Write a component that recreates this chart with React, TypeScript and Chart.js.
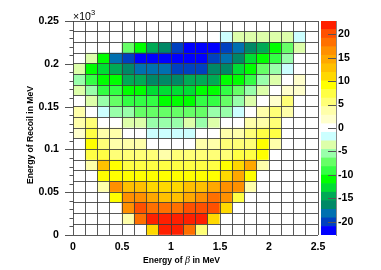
import React, { useEffect, useRef } from "react";
import { Chart, registerables } from "chart.js";

Chart.register(...registerables);

const FONT = '"Liberation Sans", Arial, sans-serif';

const COL_COUNT = 20;
const X_STEP = 0.125;
const Y_STEP = 0.0125;
const Z_MAX = 22.8;
const Z_TICKS = [-20, -15, -10, -5, 0, 5, 10, 15, 20];

// listed from the top row of the picture down to the bottom row
const zRows: number[][] = [
  [0,0,0,0,0,0,0,0,0,0,0,0,0,0,0,0,0,0,0,0],
  [0,0,0,0,0,0,0,0,0,0,0,0,-1.8,-3.6,-3.6,-3.6,-3.6,-3.6,-1.8,0],
  [0,0,0,0,-7.3,-11,-14.6,-16.4,-20,-21.9,-21.9,-21.9,-20,-18.2,-16.4,-14.6,-11,-7.3,-3.6,0],
  [0,-3.6,-11,-18.2,-20,-21.9,-21.9,-21.9,-21.9,-21.9,-21.9,-20,-18.2,-16.4,-12.8,-11,-9.1,-5.5,0,0],
  [-3.6,-11,-12.8,-14.6,-16.4,-18.2,-18.2,-18.2,-20,-20,-20,-16.4,-16.4,-12.8,-11,-7.3,-5.5,-1.8,0,0],
  [-5.5,-9.1,-11,-11,-14.6,-14.6,-16.4,-16.4,-16.4,-14.6,-14.6,-14.6,-11,-11,-9.1,-5.5,-3.6,0,1.8,0],
  [-3.6,-5.5,-9.1,-9.1,-11,-11,-12.8,-12.8,-12.8,-12.8,-11,-11,-9.1,-7.3,-5.5,-3.6,0,1.8,1.8,0],
  [0,-3.6,-5.5,-7.3,-9.1,-9.1,-9.1,-11,-11,-11,-9.1,-9.1,-7.3,-5.5,-3.6,0,1.8,5.5,0,0],
  [3.6,0,-1.8,-5.5,-5.5,-7.3,-7.3,-7.3,-7.3,-7.3,-7.3,-5.5,-5.5,-1.8,0,3.6,5.5,3.6,0,0],
  [3.6,5.5,0,0,-3.6,-3.6,-5.5,-5.5,-5.5,-3.6,-5.5,-3.6,0,0,3.6,3.6,5.5,0,0,0],
  [1.8,7.3,3.6,3.6,0,0,-1.8,-1.8,-1.8,-1.8,0,0,3.6,3.6,5.5,7.3,7.3,0,0,0],
  [0,9.1,5.5,3.6,3.6,3.6,0,0,0,0,3.6,3.6,5.5,5.5,5.5,9.1,3.6,0,0,0],
  [0,7.3,7.3,5.5,5.5,5.5,5.5,3.6,5.5,5.5,5.5,5.5,5.5,7.3,7.3,9.1,0,0,0,0],
  [0,3.6,12.8,9.1,7.3,7.3,7.3,7.3,7.3,7.3,7.3,7.3,9.1,11,14.6,3.6,0,0,0,0],
  [0,0,9.1,9.1,9.1,9.1,9.1,9.1,9.1,9.1,9.1,9.1,11,14.6,9.1,0,0,0,0,0],
  [0,0,3.6,16.4,12.8,12.8,11,11,11,12.8,12.8,14.6,16.4,16.4,3.6,0,0,0,0,0],
  [0,0,0,9.1,16.4,16.4,14.6,12.8,12.8,14.6,16.4,18.2,16.4,7.3,0,0,0,0,0,0],
  [0,0,0,0,16.4,20,18.2,18.2,18.2,20,20,20,11,0,0,0,0,0,0,0],
  [0,0,0,0,3.6,18.2,21.9,21.9,21.9,21.9,21.9,11,0,0,0,0,0,0,0,0],
  [0,0,0,0,0,0,11,21.9,21.9,18.2,5.5,0,0,0,0,0,0,0,0,0],
];

const bandColors = [
  "#0000ff","#0040c0","#0070b0","#008866","#00aa55","#00dd33","#00ff00","#33ff44","#66ff66",
  "#99ffaa","#ddffaa","#ccffff","#ffffff","#ffffcc","#ffffaa","#ffff77","#ffff44","#ffff00",
  "#ffd800","#ffc000","#ffa800","#ff9000","#ff7000","#ff5000","#ff2000",
];

const bandWidth = (2 * Z_MAX) / bandColors.length;
const colorOf = (z: number) => {
  const i = Math.floor((z + Z_MAX) / bandWidth);
  return bandColors[Math.max(0, Math.min(bandColors.length - 1, i))];
};

const cells: { x: number; y: [number, number] }[] = [];
const cellColors: string[] = [];
zRows.forEach((row, r) => {
  const lo = (zRows.length - 1 - r) * Y_STEP;
  for (let c = 0; c < COL_COUNT; c++) {
    cells.push({ x: (c + 0.5) * X_STEP, y: [lo, lo + Y_STEP] });
    cellColors.push(colorOf(row[c]));
  }
});

const tickFont = { family: FONT, size: 10.6, weight: "bold" as const };
const GRID = "rgba(60,60,60,0.85)";

const decorate = {
  id: "decorate",
  afterDraw(chart: any) {
    const { ctx, scales } = chart;
    const y = scales.y;
    ctx.save();
    ctx.strokeStyle = "#555";
    ctx.lineWidth = 1;
    for (let i = 0; i <= 25; i++) {
      const p = Math.round(y.getPixelForValue(i * 0.01)) + 0.5;
      const len = i % 5 === 0 ? 8 : 3.5;
      ctx.beginPath();
      ctx.moveTo(y.right - len, p);
      ctx.lineTo(y.right, p);
      ctx.stroke();
    }
    ctx.fillStyle = "#000";
    ctx.textBaseline = "alphabetic";
    ctx.textAlign = "left";
    ctx.font = `10.5px ${FONT}`;
    ctx.fillText("\u00d710", 73, 20);
    ctx.font = `7.5px ${FONT}`;
    ctx.fillText("-3", 88.5, 15);
    ctx.save();
    ctx.translate(33, 135);
    ctx.rotate(-Math.PI / 2);
    ctx.textAlign = "center";
    ctx.font = `bold 8.6px ${FONT}`;
    ctx.fillText("Energy of Recoil in MeV", 0, 0);
    ctx.restore();
    const parts: [string, string][] = [
      ["Energy of ", `bold 8.6px ${FONT}`],
      ["\u03b2", `italic 10px "Liberation Serif", serif`],
      [" in MeV", `bold 8.6px ${FONT}`],
    ];
    let tx = 143;
    for (const [t, f] of parts) {
      ctx.font = f;
      ctx.fillText(t, tx, 263);
      tx += ctx.measureText(t).width;
    }
    ctx.restore();
  },
};

const barTicks = {
  id: "barTicks",
  afterDraw(chart: any) {
    const { ctx, scales } = chart;
    const z = scales.y;
    ctx.save();
    ctx.strokeStyle = "#555";
    ctx.lineWidth = 1;
    for (const v of Z_TICKS) {
      const p = Math.round(z.getPixelForValue(v)) + 0.5;
      ctx.beginPath();
      ctx.moveTo(z.left - 8, p);
      ctx.lineTo(z.left, p);
      ctx.stroke();
    }
    ctx.restore();
  },
};

export default function App() {
  const mainRef = useRef<HTMLCanvasElement>(null);
  const barRef = useRef<HTMLCanvasElement>(null);

  useEffect(() => {
    const main = new Chart(mainRef.current as HTMLCanvasElement, {
      type: "bar",
      data: {
        datasets: [
          {
            data: cells as any,
            backgroundColor: cellColors,
            borderWidth: 0,
            barPercentage: 1,
            categoryPercentage: 1,
          },
        ],
      },
      options: {
        responsive: false,
        animation: false,
        layout: { padding: { top: 21, right: 63, left: 0, bottom: 0 } },
        plugins: { legend: { display: false }, tooltip: { enabled: false } },
        scales: {
          x: {
            type: "linear",
            min: 0,
            max: 2.5,
            offset: false,
            afterFit: (s: any) => { s.height = 35; },
            grid: { offset: false, color: GRID, z: 1, drawTicks: false, lineWidth: 1 },
            border: { display: false },
            ticks: {
              stepSize: X_STEP,
              autoSkip: false,
              maxRotation: 0,
              padding: 6,
              color: "#000",
              font: tickFont,
              callback: (v: any) => {
                const k = Number(v) / 0.5;
                return Math.abs(k - Math.round(k)) < 1e-6 ? String(+Number(v).toFixed(2)) : "";
              },
            },
          },
          y: {
            type: "linear",
            min: 0,
            max: 0.25,
            afterFit: (s: any) => { s.width = 73; },
            grid: { color: GRID, z: 1, drawTicks: false, lineWidth: 1 },
            border: { display: false },
            ticks: {
              stepSize: Y_STEP,
              autoSkip: false,
              padding: 14,
              color: "#000",
              font: tickFont,
              callback: (v: any) => {
                const k = Number(v) / 0.05;
                return Math.abs(k - Math.round(k)) < 1e-6 ? String(+Number(v).toFixed(3)) : "";
              },
            },
          },
        },
      },
      plugins: [decorate],
    } as any);

    const bar = new Chart(barRef.current as HTMLCanvasElement, {
      type: "bar",
      data: {
        labels: [""],
        datasets: bandColors.map((c, i) => ({
          data: [[-Z_MAX + i * bandWidth, -Z_MAX + (i + 1) * bandWidth]],
          backgroundColor: c,
          borderWidth: 0,
          grouped: false,
          barPercentage: 1,
          categoryPercentage: 1,
        })),
      },
      options: {
        responsive: false,
        animation: false,
        layout: { padding: { top: 21, left: 0, right: 0, bottom: 35 } },
        plugins: { legend: { display: false }, tooltip: { enabled: false } },
        scales: {
          x: { display: false },
          y: {
            position: "right",
            min: -Z_MAX,
            max: Z_MAX,
            afterBuildTicks: (s: any) => { s.ticks = Z_TICKS.map((value) => ({ value })); },
            afterFit: (s: any) => { s.width = 45; },
            grid: { display: false, drawTicks: false },
            border: { color: "#888" },
            ticks: {
              autoSkip: false,
              padding: 2,
              color: "#000",
              font: tickFont,
              callback: (v: any) => String(v),
            },
          },
        },
      },
      plugins: [barTicks],
    } as any);

    return () => {
      main.destroy();
      bar.destroy();
    };
  }, []);

  const soft = "blur(0.4px)";
  return (
    <div style={{ position: "fixed", left: 0, top: 0, width: 381, height: 270, background: "#fff" }}>
      <canvas
        ref={mainRef}
        width={381}
        height={270}
        style={{ position: "absolute", left: 0, top: 0, width: 381, height: 270, filter: soft }}
      />
      <canvas
        ref={barRef}
        width={60}
        height={270}
        style={{ position: "absolute", left: 321, top: 0, width: 60, height: 270, filter: soft }}
      />
    </div>
  );
}
